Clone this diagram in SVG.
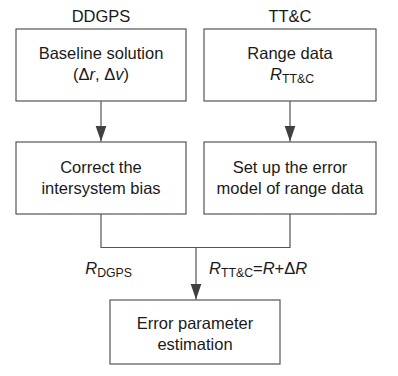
<svg xmlns="http://www.w3.org/2000/svg" width="398" height="376" viewBox="0 0 398 376">
  <style>
    text { font-family: "Liberation Sans", Arial, sans-serif; font-size: 16.5px; fill: #1a1a1a; }
    .c { text-anchor: middle; }
    .i { font-style: italic; }
    .sub { font-size: 12.3px; }
    .box { fill: #ffffff; stroke: #555555; stroke-width: 1.2; }
    .wire { fill: none; stroke: #555555; stroke-width: 1.2; }
  </style>
  <defs>
    <marker id="arrow" markerUnits="userSpaceOnUse" markerWidth="18" markerHeight="12" refX="16" refY="5.5" orient="auto">
      <path d="M0,0 L16,5.5 L0,11 Z" fill="#404040"/>
    </marker>
  </defs>
  <rect width="398" height="376" fill="#ffffff"/>

  <!-- column headings -->
  <text class="c" x="101" y="22">DDGPS</text>
  <text class="c" x="290" y="22">TT&amp;C</text>

  <g id="baseline">
    <rect class="box" x="16" y="29" width="170" height="72"/>
    <text class="c" x="101" y="59">Baseline solution</text>
    <text class="c" x="101" y="80">(Δ<tspan class="i">r</tspan>, Δ<tspan class="i">v</tspan>)</text>
  </g>

  <g id="range">
    <rect class="box" x="204" y="29" width="172" height="72"/>
    <text class="c" x="290" y="59">Range data</text>
    <text class="c" x="292" y="80"><tspan class="i">R</tspan><tspan class="sub" dy="3">TT&amp;C</tspan></text>
  </g>

  <g id="bias">
    <rect class="box" x="16" y="142" width="170" height="72"/>
    <text class="c" x="101" y="172.5">Correct the</text>
    <text class="c" x="101" y="194">intersystem bias</text>
  </g>

  <g id="errmodel">
    <rect class="box" x="204" y="142" width="172" height="72"/>
    <text class="c" x="290" y="172.5">Set up the error</text>
    <text class="c" x="290" y="194">model of range data</text>
  </g>

  <g id="estimation">
    <rect class="box" x="110" y="300" width="170" height="64"/>
    <text class="c" x="195" y="329">Error parameter</text>
    <text class="c" x="195" y="350">estimation</text>
  </g>

  <g id="connectors">
    <line class="wire" x1="101" y1="101" x2="101" y2="141.5" marker-end="url(#arrow)"/>
    <line class="wire" x1="290" y1="101" x2="290" y2="141.5" marker-end="url(#arrow)"/>
    <polyline class="wire" points="101,214 101,247.5 290,247.5 290,214"/>
    <line class="wire" x1="196" y1="247.5" x2="196" y2="299.5" marker-end="url(#arrow)"/>
  </g>

  <g id="labels">
    <text x="132" y="274" style="text-anchor:end"><tspan class="i">R</tspan><tspan class="sub" dy="3">DGPS</tspan></text>
    <text x="209" y="274"><tspan class="i">R</tspan><tspan class="sub" dy="3">TT&amp;C</tspan><tspan dy="-3">=</tspan><tspan class="i">R</tspan>+Δ<tspan class="i">R</tspan></text>
  </g>
</svg>
